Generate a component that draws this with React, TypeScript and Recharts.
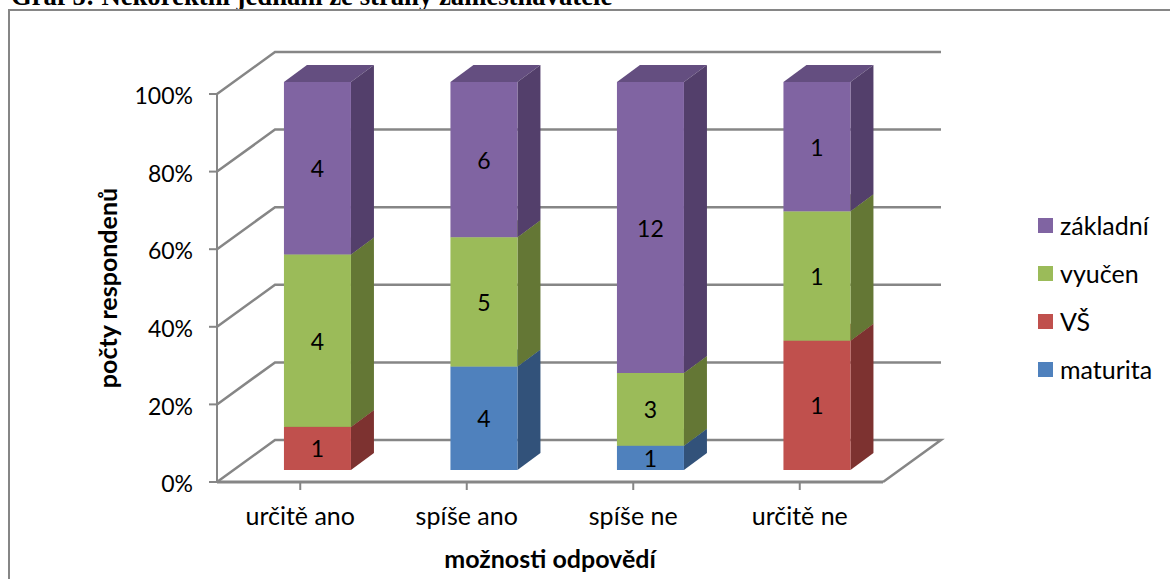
import { BarChart, Bar, XAxis, YAxis, CartesianGrid, LabelList } from 'recharts';

const categories = ['určitě ano', 'spíše ano', 'spíše ne', 'určitě ne'];
const maturita = [0, 4, 1, 0];
const vs = [1, 0, 0, 1];
const vyucen = [4, 5, 3, 1];
const zakladni = [4, 6, 12, 1];
const yTicks = [0, 0.2, 0.4, 0.6, 0.8, 1];

const data = categories.map((name, i) => ({
  name,
  maturita: maturita[i],
  VS: vs[i],
  vyucen: vyucen[i],
  zakladni: zakladni[i],
}));

const FONT = 'Lato, sans-serif';
const AXIS = '#868686';
// how far the bars sit from the front plane, and the depth of the box itself
const BAR_DX = 17;
const BAR_DY = -12;
const DEPTH_X = 23;
const DEPTH_Y = 17;
// back wall offset of the gridlines
const WALL_X = 58;
const WALL_Y = 42;

const series = [
  { key: 'maturita', label: 'maturita', front: '#4F81BD', side: '#32527A', top: '#3C6494' },
  { key: 'VS', label: 'VŠ', front: '#C0504D', side: '#7D3230', top: '#983C3A' },
  { key: 'vyucen', label: 'vyučen', front: '#9BBB59', side: '#647735', top: '#7A9444' },
  { key: 'zakladni', label: 'základní', front: '#8064A2', side: '#533F6B', top: '#644E80' },
];

function box(front: string, side: string, top: string) {
  return function Box(props: any) {
    const { x, y, width, height } = props;
    if (!height || height <= 0) return <g />;
    const l = x + BAR_DX;
    const t = y + BAR_DY;
    const r = l + width;
    const b = t + height;
    return (
      <g>
        <path d={`M${l} ${t}L${l + DEPTH_X} ${t - DEPTH_Y}L${r + DEPTH_X} ${t - DEPTH_Y}L${r} ${t}Z`} fill={top} />
        <path d={`M${r} ${t}L${r + DEPTH_X} ${t - DEPTH_Y}L${r + DEPTH_X} ${b - DEPTH_Y}L${r} ${b}Z`} fill={side} />
        <rect x={l} y={t} width={width} height={height} fill={front} />
      </g>
    );
  };
}

function renderValue(props: any) {
  const { x, y, width, height, value } = props;
  if (!value) return <g />;
  return (
    <text
      x={x + width / 2 + BAR_DX}
      y={y + height / 2 + BAR_DY}
      textAnchor="middle"
      dominantBaseline="central"
      fontFamily={FONT}
      fontSize={23}
      fill="#000"
    >
      {value}
    </text>
  );
}

function wallLine(props: any) {
  const { x1, x2, y1, key } = props;
  const floor = Math.abs(y1 - 482) < 1;
  return (
    <g key={key}>
      <path
        d={`M${x1} ${y1}L${x1 + WALL_X} ${y1 - WALL_Y}L${x2 + WALL_X} ${y1 - WALL_Y}${floor ? `L${x2} ${y1}` : ''}`}
        fill="none"
        stroke={AXIS}
        strokeWidth={2.5}
      />
    </g>
  );
}

function LegendList() {
  return (
    <div style={{ position: 'absolute', left: 1038, top: 201 }}>
      {[...series].reverse().map((s) => (
        <div key={s.key} style={{ display: 'flex', alignItems: 'center', height: 48, fontFamily: FONT, fontSize: 25 }}>
          <span style={{ width: 15, height: 15, background: s.front, marginRight: 7 }} />
          <span>{s.label}</span>
        </div>
      ))}
    </div>
  );
}

export default function App() {
  return (
    <div style={{ position: 'absolute', left: 0, top: 0, width: 1170, height: 579, overflow: 'hidden', background: '#fff' }}>
      <div
        style={{
          position: 'absolute',
          left: 11,
          top: -19,
          fontFamily: '"Liberation Serif", serif',
          fontWeight: 'bold',
          fontSize: 26.7,
          whiteSpace: 'nowrap',
          color: '#000',
        }}
      >
        Graf 5: Nekorektní jednání ze strany zaměstnavatele
      </div>
      <div
        style={{
          position: 'absolute',
          left: 8,
          top: 9,
          width: 1170,
          height: 600,
          border: '2px solid #868686',
          boxSizing: 'border-box',
        }}
      />
      <BarChart
        width={1170}
        height={579}
        data={data}
        stackOffset="expand"
        barCategoryGap="30%"
        margin={{ top: 94, right: 287, bottom: 0, left: 0 }}
        style={{ position: 'absolute', left: 0, top: 0 }}
      >
        <CartesianGrid vertical={false} horizontal={wallLine} />
        <XAxis
          dataKey="name"
          height={97}
          axisLine={{ stroke: AXIS, strokeWidth: 3 }}
          tickLine={{ stroke: AXIS, strokeWidth: 2 }}
          tickSize={8}
          tickMargin={17}
          interval={0}
          tick={{ fontFamily: FONT, fontSize: 25, fill: '#000' }}
          label={{ value: 'možnosti odpovědí', position: 'insideBottom', offset: 11, fontFamily: FONT, fontSize: 25, fontWeight: 'bold', fill: '#000' }}
        />
        <YAxis
          width={217}
          domain={[0, 1]}
          ticks={yTicks}
          tickFormatter={(v: number) => `${Math.round(v * 100)}%`}
          axisLine={{ stroke: AXIS, strokeWidth: 2 }}
          tickLine={{ stroke: AXIS, strokeWidth: 2 }}
          tickSize={8}
          tickMargin={16}
          tick={{ fontFamily: FONT, fontSize: 23, fill: '#000', dy: 2 }}
          label={{ value: 'počty respondenů', angle: -90, position: 'center', dx: 0, fontFamily: FONT, fontSize: 25, fontWeight: 'bold', fill: '#000' }}
        />
        {series.map((s) => (
          <Bar key={s.key} dataKey={s.key} stackId="a" isAnimationActive={false} shape={box(s.front, s.side, s.top)}>
            <LabelList dataKey={s.key} content={renderValue} />
          </Bar>
        ))}
      </BarChart>
      <LegendList />
    </div>
  );
}
